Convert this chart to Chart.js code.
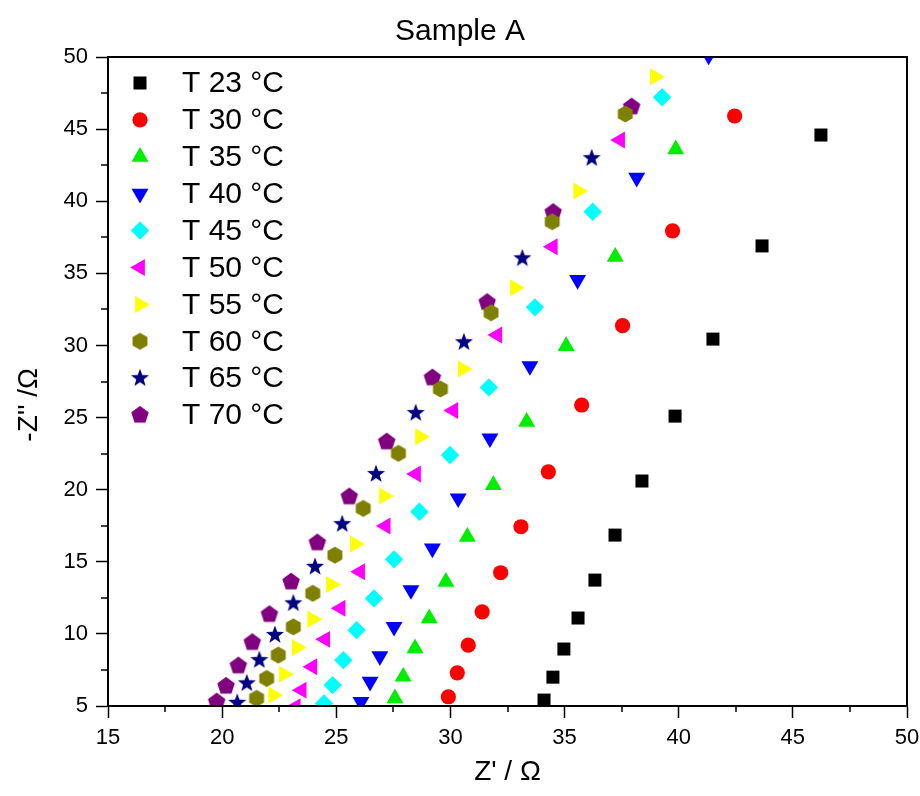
<!DOCTYPE html>
<html>
<head>
<meta charset="utf-8">
<script src="https://cdn.jsdelivr.net/npm/chart.js@4.4.1/dist/chart.umd.min.js"></script>
<style>
  html, body { margin: 0; padding: 0; background: #ffffff; }
  #wrap { width: 920px; height: 796px; }
</style>
</head>
<body>
<div id="wrap"><canvas id="c" width="920" height="796"></canvas></div>
<script>
// ---- data (Z' in ohm, -Z'' in ohm) ----
const labels = ["T 23 °C","T 30 °C","T 35 °C","T 40 °C","T 45 °C","T 50 °C","T 55 °C","T 60 °C","T 65 °C","T 70 °C"];

const t23x = [34.10,34.49,34.97,35.59,36.33,37.21,38.39,39.84,41.50,43.65,46.23];
const t23y = [5.41,7.00,8.95,11.10,13.73,16.85,20.60,25.10,30.44,36.90,44.59];
const t30x = [29.91,30.30,30.78,31.39,32.20,33.09,34.29,35.75,37.54,39.73,42.45];
const t30y = [5.64,7.30,9.22,11.53,14.24,17.43,21.24,25.87,31.37,37.95,45.91];
const t35x = [27.57,27.93,28.45,29.07,29.80,30.74,31.88,33.34,35.07,37.22,39.87];
const t35y = [5.53,7.03,9.00,11.08,13.61,16.73,20.32,24.71,29.96,36.15,43.60];
const t40x = [26.08,26.48,26.91,27.53,28.27,29.21,30.34,31.73,33.48,35.57,38.16,41.31];
const t40y = [5.29,6.68,8.46,10.49,13.04,15.93,19.40,23.56,28.57,34.54,41.63,50.10];
const t45x = [24.46,24.84,25.31,25.89,26.65,27.53,28.64,29.98,31.68,33.70,36.23,39.27];
const t45y = [5.18,6.45,8.18,10.26,12.46,15.17,18.47,22.40,27.09,32.64,39.27,47.21];
const t50x = [23.22,23.48,23.95,24.51,25.19,26.04,27.16,28.49,30.12,32.05,34.48,37.43];
const t50y = [4.95,6.10,7.72,9.62,11.77,14.31,17.48,21.08,25.49,30.72,36.84,44.24];
const t55x = [22.24,22.71,23.27,23.95,24.77,25.82,27.09,28.67,30.54,32.83,35.60,38.96];
const t55y = [5.76,7.21,9.06,11.01,13.43,16.23,19.56,23.67,28.36,34.00,40.71,48.63];
const t60x = [21.51,21.95,22.46,23.12,23.97,24.94,26.18,27.72,29.56,31.78,34.46,37.66];
const t60y = [5.53,6.91,8.53,10.49,12.81,15.46,18.70,22.52,26.98,32.27,38.58,46.05];
const t65x = [20.66,21.08,21.63,22.31,23.12,24.07,25.26,26.74,28.48,30.59,33.15,36.19];
const t65y = [5.22,6.57,8.18,9.92,12.12,14.65,17.61,21.08,25.31,30.22,36.04,42.98];
const t70x = [19.76,20.17,20.71,21.32,22.07,23.02,24.17,25.57,27.21,29.21,31.61,34.50,37.94];
const t70y = [5.29,6.38,7.79,9.41,11.35,13.61,16.32,19.51,23.32,27.76,32.99,39.23,46.55];

const xTicks = [15,20,25,30,35,40,45,50];
const yTicks = [5,10,15,20,25,30,35,40,45,50];

const colors = ["#000000","#ff0000","#00ee00","#0000ff","#00ffff","#ff00ff","#ffff00","#808000","#000080","#800080"];

// ---- custom marker images ----
function polyCanvas(color, n, rOut, rIn, startAngle) {
  const s = 24, c = document.createElement('canvas');
  c.width = s; c.height = s;
  const g = c.getContext('2d');
  g.fillStyle = color;
  g.beginPath();
  const pts = rIn ? n * 2 : n;
  for (let i = 0; i < pts; i++) {
    const r = rIn ? (i % 2 === 0 ? rOut : rIn) : rOut;
    const a = startAngle + i * 2 * Math.PI / pts;
    const px = s / 2 + r * Math.cos(a), py = s / 2 + r * Math.sin(a);
    if (i === 0) g.moveTo(px, py); else g.lineTo(px, py);
  }
  g.closePath();
  g.fill();
  return c;
}
const hexImg = polyCanvas(colors[7], 6, 8.6, 0, -Math.PI / 2);
const starImg = polyCanvas(colors[8], 5, 9.5, 3.9, -Math.PI / 2);
const pentImg = polyCanvas(colors[9], 5, 9.2, 0, -Math.PI / 2);

const styles = [
  {pointStyle: 'rect', radius: 9.2, rotation: 0},
  {pointStyle: 'circle', radius: 7.6, rotation: 0},
  {pointStyle: 'triangle', radius: 9.8, rotation: 0},
  {pointStyle: 'triangle', radius: 9.8, rotation: 180},
  {pointStyle: 'rectRot', radius: 9.2, rotation: 0},
  {pointStyle: 'triangle', radius: 9.8, rotation: -90},
  {pointStyle: 'triangle', radius: 9.8, rotation: 90},
  {pointStyle: hexImg, radius: 9, rotation: 0},
  {pointStyle: starImg, radius: 9, rotation: 0},
  {pointStyle: pentImg, radius: 9, rotation: 0}
];

const seriesX = [t23x,t30x,t35x,t40x,t45x,t50x,t55x,t60x,t65x,t70x];
const seriesY = [t23y,t30y,t35y,t40y,t45y,t50y,t55y,t60y,t65y,t70y];

const datasets = labels.map((lab, i) => ({
  label: lab,
  data: seriesX[i].map((x, k) => ({x: x, y: seriesY[i][k]})),
  showLine: false,
  pointStyle: styles[i].pointStyle,
  pointRadius: styles[i].radius,
  pointRotation: styles[i].rotation,
  pointBackgroundColor: colors[i],
  pointBorderColor: colors[i],
  pointBorderWidth: 0,
  pointHoverRadius: styles[i].radius,
  clip: 0
}));

const FONT = "'Liberation Sans', Arial, sans-serif";

// frame, minor ticks, legend
const extras = {
  id: 'extras',
  afterDraw(chart) {
    const ctx = chart.ctx, a = chart.chartArea;
    const xs = chart.scales.x, ys = chart.scales.y;
    ctx.save();
    ctx.strokeStyle = '#000';
    ctx.lineWidth = 2;
    ctx.strokeRect(a.left, a.top, a.right - a.left, a.bottom - a.top);
    ctx.lineWidth = 1.5;
    ctx.beginPath();
    for (let v = 17.5; v < 50; v += 5) {
      const px = Math.round(xs.getPixelForValue(v));
      ctx.moveTo(px, a.bottom); ctx.lineTo(px, a.bottom + 6);
    }
    for (let v = 7.5; v < 50; v += 5) {
      const py = Math.round(ys.getPixelForValue(v));
      ctx.moveTo(a.left, py); ctx.lineTo(a.left - 7, py);
    }
    ctx.stroke();
    // legend
    const lx = 140, tx = 182, y0 = 83, dy = 36.9;
    ctx.font = "30px " + FONT;
    ctx.textBaseline = 'middle';
    ctx.textAlign = 'left';
    labels.forEach((lab, i) => {
      const y = y0 + i * dy;
      ctx.fillStyle = colors[i];
      ctx.strokeStyle = colors[i];
      Chart.helpers.drawPoint(ctx, {pointStyle: styles[i].pointStyle, rotation: styles[i].rotation, radius: styles[i].radius, borderWidth: 0}, lx, y);
      ctx.fillStyle = '#000';
      ctx.fillText(lab, tx, y + 1);
    });
    ctx.restore();
  }
};

new Chart(document.getElementById('c'), {
  type: 'scatter',
  data: { datasets: datasets },
  plugins: [extras],
  options: {
    responsive: false,
    animation: false,
    devicePixelRatio: 1,
    layout: { padding: { left: 0, right: 0, top: 0, bottom: 0 } },
    plugins: {
      legend: { display: false },
      tooltip: { enabled: false },
      title: {
        display: true,
        text: 'Sample A',
        color: '#000',
        font: { family: FONT, size: 30, weight: 'normal' },
        padding: { top: 14, bottom: 7 }
      }
    },
    scales: {
      x: {
        type: 'linear',
        min: 15, max: 50,
        afterBuildTicks: (s) => { s.ticks = xTicks.map(v => ({value: v})); },
        afterFit: (s) => { s.height = 90; s.paddingLeft = 0; s.paddingRight = 13; },
        ticks: { color: '#000', font: { family: FONT, size: 22 }, padding: 7, maxRotation: 0 },
        grid: { display: true, drawOnChartArea: false, drawTicks: true, tickLength: 12, tickColor: '#000', tickWidth: 1.5 },
        border: { display: true, color: '#000', width: 2 },
        title: { display: true, text: "Z' / Ω", color: '#000', font: { family: FONT, size: 28 }, padding: { top: 0, bottom: 7 } }
      },
      y: {
        type: 'linear',
        min: 5, max: 50,
        afterBuildTicks: (s) => { s.ticks = yTicks.map(v => ({value: v})); },
        afterFit: (s) => { s.width = 108; s.paddingTop = 0; s.paddingBottom = 0; },
        ticks: { color: '#000', font: { family: FONT, size: 22 }, padding: 8 },
        grid: { display: true, drawOnChartArea: false, drawTicks: true, tickLength: 12, tickColor: '#000', tickWidth: 1.5 },
        border: { display: true, color: '#000', width: 2 },
        title: { display: true, text: "-Z'' /Ω      ", color: '#000', font: { family: FONT, size: 28 }, padding: { top: 12, bottom: 0 } }
      }
    }
  }
});
</script>
</body>
</html>
